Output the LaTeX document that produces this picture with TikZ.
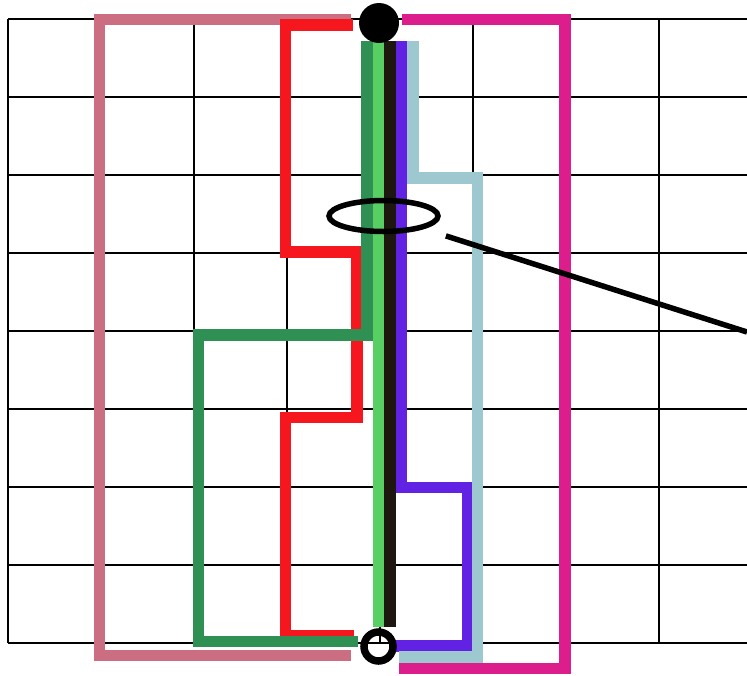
\documentclass[tikz,border=0pt]{standalone}
\usepackage{xcolor}
\usetikzlibrary{shapes.geometric,calc}
\definecolor{rose}{RGB}{204,110,130}
\definecolor{routered}{RGB}{245,22,30}
\definecolor{darkgreen}{RGB}{46,145,83}
\definecolor{lightgreen}{RGB}{87,207,99}
\definecolor{nearblack}{RGB}{30,23,16}
\definecolor{routeviolet}{RGB}{97,34,227}
\definecolor{paleblue}{RGB}{157,200,207}
\definecolor{routemagenta}{RGB}{220,30,140}
\tikzstyle{gridline} = [draw=black, line width=2.6pt]
\tikzstyle{route} = [line width=11.5pt]
\tikzset{
  source/.style={circle, fill=black, inner sep=0pt, minimum size=40pt},
  sink/.style={circle, draw=black, line width=7.5pt, inner sep=0pt, minimum size=29pt},
  lens/.style={ellipse, draw=black, line width=5.5pt, inner sep=0pt, minimum width=109pt, minimum height=31pt}
}

\begin{document}
\begin{tikzpicture}[x=1pt, y=-1pt]
    \useasboundingbox (0,0) rectangle (747,675);
    \clip (0,0) rectangle (747,675);
    % grid
    \foreach \x in {8,101,...,659} \draw[gridline] (\x,19) -- (\x,643);
    \foreach \y in {19,97,...,643} \draw[gridline] (8,\y) -- (747,\y);

    \draw[route, rose] (351,19.5) -- (99.5,19.5) -- (99.5,655.5) -- (351,655.5);
    \draw[route, routemagenta] (402,19.5) -- (565,19.5) -- (565,668.5) -- (399,668.5);
    \draw[route, routeviolet] (401.5,41) -- (401.5,487.5) -- (468,487.5) -- (468,646) -- (395,646);
    \draw[route, paleblue] (413,41) -- (413,178) -- (477.5,178) -- (477.5,657) -- (399,657);
    \draw[route, routered] (353,25) -- (285.5,25) -- (285.5,252) -- (357,252) -- (357,417.5) -- (285.5,417.5) -- (285.5,636) -- (354,636);
    \draw[route, darkgreen] (367,41) -- (367,335) -- (198.5,335) -- (198.5,641.5) -- (358,641.5);
    \draw[route, lightgreen] (379,41) -- (379,627);
    \draw[route, nearblack] (390,41) -- (390,627);

    \node (src)[source] at (379,23) {};
    \node (snk)[sink] at (378.5,646.5) {};
    \node (bundle)[lens] at (383.5,216) {};
    \coordinate (note) at (747,332);
    \draw[line width=5.5pt, shorten <=23pt] (bundle) -- (note);
\end{tikzpicture}
\end{document}
